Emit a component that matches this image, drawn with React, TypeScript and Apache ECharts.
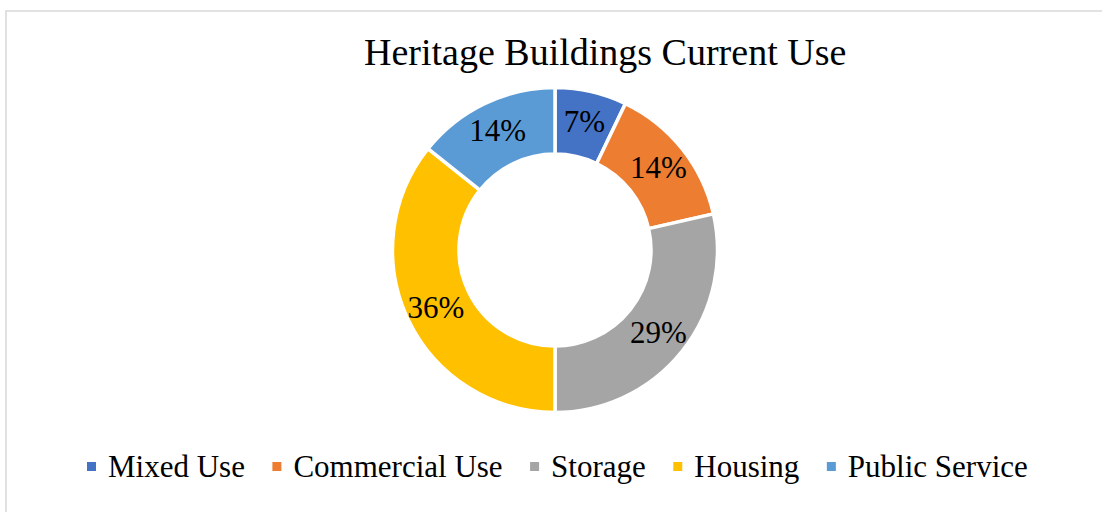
import React, { useEffect, useRef } from "react";
import * as echarts from "echarts";

const title = "Heritage Buildings Current Use";
const categories = ["Mixed Use", "Commercial Use", "Storage", "Housing", "Public Service"];
const counts = [1, 2, 4, 5, 2];
const colors = ["#4472C4", "#ED7D31", "#A5A5A5", "#FFC000", "#5B9BD5"];

const FONT = "'Liberation Serif', 'Times New Roman', serif";

export default function App() {
  const ref = useRef<HTMLDivElement>(null);
  useEffect(() => {
    if (!ref.current) return;
    const chart = echarts.init(ref.current, null, { renderer: "svg" });
    chart.setOption({
      animation: false,
      backgroundColor: "#ffffff",
      title: {
        text: title,
        left: 359,
        top: 28,
        textStyle: { fontFamily: FONT, fontSize: 38, fontWeight: "normal", color: "#000000" },
      },
      legend: {
        data: categories,
        left: 80,
        top: 446,
        icon: "rect",
        itemWidth: 11,
        itemHeight: 11,
        itemGap: 25.5,
        textStyle: { fontFamily: FONT, fontSize: 31, color: "#000000", padding: [0, 0, 0, 6] },
      },
      graphic: [
        {
          type: "rect",
          shape: { x: 6, y: 11, width: 1110, height: 520 },
          style: { fill: "none", stroke: "#d9d9d9", lineWidth: 1.6 },
          silent: true,
        },
      ],
      series: [
        {
          type: "pie",
          center: [555, 250],
          radius: [96, 162.5],
          startAngle: 90,
          clockwise: true,
          percentPrecision: 0,
          avoidLabelOverlap: false,
          itemStyle: { borderColor: "#ffffff", borderWidth: 3.5 },
          label: {
            show: true,
            position: "inside",
            formatter: "{d}%",
            fontFamily: FONT,
            fontSize: 31,
            color: "#000000",
          },
          labelLine: { show: false },
          emphasis: { disabled: true },
          data: categories.map((name, i) => ({
            name,
            value: counts[i],
            itemStyle: { color: colors[i] },
          })),
        },
      ],
    });
    return () => chart.dispose();
  }, []);
  return (
    <div
      ref={ref}
      style={{ position: "absolute", left: 0, top: 0, width: 1102, height: 512 }}
    />
  );
}
